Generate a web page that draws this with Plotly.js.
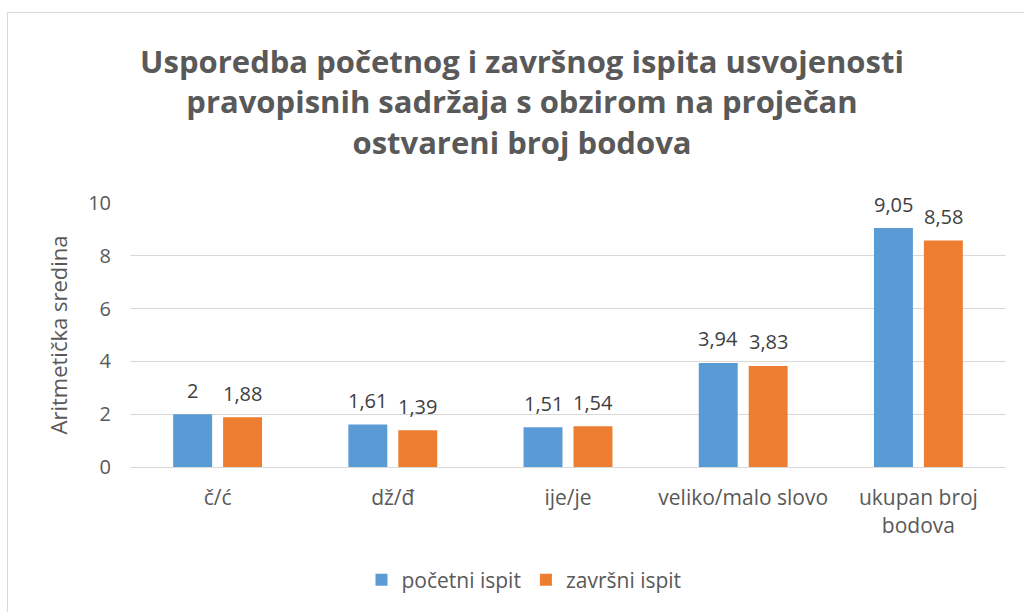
<!DOCTYPE html>
<html>
<head>
<meta charset="utf-8">
<script src="https://cdn.plot.ly/plotly-3.0.1.min.js"></script>
<style>
html,body{margin:0;padding:0;background:#fff;}
#frame{position:absolute;left:7px;top:12px;width:1040px;height:640px;border:1px solid #d9d9d9;box-sizing:border-box;}
#chart{position:absolute;left:0;top:0;width:1024px;height:612px;}
</style>
</head>
<body>
<div id="frame"></div>
<div id="chart"></div>
<script>
const categories = ['č/ć', 'dž/đ', 'ije/je', 'veliko/malo slovo', 'ukupan broj<br>bodova'];
const pocetni = [2, 1.61, 1.51, 3.94, 9.05];
const zavrsni = [1.88, 1.39, 1.54, 3.83, 8.58];
const seriesNames = ['početni ispit', 'završni ispit'];
const titleText = 'Usporedba početnog i završnog ispita usvojenosti<br>pravopisnih sadržaja s obzirom na proječan<br>ostvareni broj bodova';
const yTitle = 'Aritmetička sredina';

const FONT = '"Open Sans", Lato, sans-serif';
const fmt = v => String(v).replace('.', ',');

const traces = [
  {type:'bar', name:seriesNames[0], x:categories, y:pocetni, marker:{color:'#5B9BD5'}, hoverinfo:'y'},
  {type:'bar', name:seriesNames[1], x:categories, y:zavrsni, marker:{color:'#ED7D31'}, hoverinfo:'y'}
];

const annotations = [];
[[pocetni, -25], [zavrsni, 25]].forEach(([vals, dx]) => {
  vals.forEach((v, i) => {
    annotations.push({x:categories[i], y:v, xref:'x', yref:'y', text:fmt(v), showarrow:false,
      xshift:dx, yshift:24, font:{family:FONT, size:20, color:'#404040'}});
  });
});

const layout = {
  width:1024, height:612,
  paper_bgcolor:'rgba(0,0,0,0)', plot_bgcolor:'rgba(0,0,0,0)',
  margin:{l:130, r:18, t:203, b:145},
  font:{family:FONT, color:'#595959'},
  title:{text:titleText, x:522/1024, xanchor:'center', xref:'container', y:1-73/612, yref:'container', yanchor:'top',
    font:{family:FONT, size:31, color:'#595959', weight:'bold'}},
  barmode:'group', bargap:0.43, bargroupgap:0.22,
  xaxis:{type:'category', tickfont:{size:21, color:'#595959'}, ticks:'', showline:true,
    linecolor:'#d9d9d9', linewidth:1, ticklabelstandoff:12},
  yaxis:{range:[0,10], dtick:2, tick0:0, gridcolor:'#d9d9d9', gridwidth:1, zeroline:false,
    tickfont:{size:20, color:'#595959'}, ticks:'', ticklabelstandoff:18,
    title:{text:yTitle, font:{size:22, color:'#595959'}, standoff:14}},
  legend:{orientation:'h', x:524/1024, xref:'container', xanchor:'center', y:1-580/612, yref:'container', yanchor:'middle',
    font:{size:21, color:'#595959'}, itemwidth:30, traceorder:'normal'},
  annotations:annotations
};

Plotly.newPlot('chart', traces, layout, {displayModeBar:false, staticPlot:true});
</script>
</body>
</html>
